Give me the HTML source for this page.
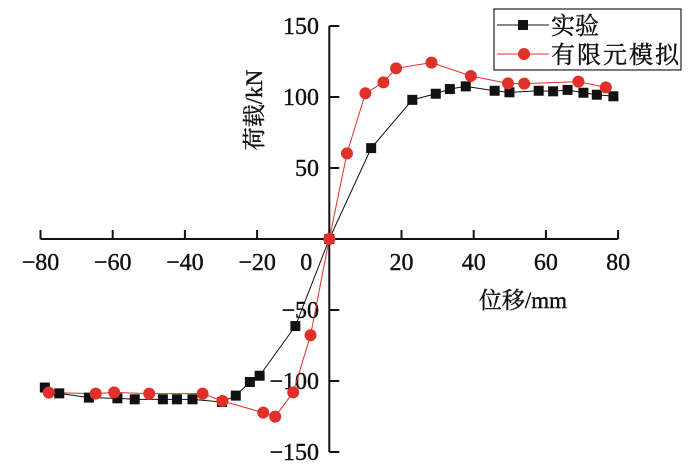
<!DOCTYPE html>
<html><head><meta charset="utf-8"><style>
html,body{margin:0;padding:0;background:#fff;}
svg{display:block;}
text{font-family:"Liberation Serif","Noto Serif CJK SC",serif;fill:#111;stroke:#111;stroke-width:0.4;}
</style></head><body>
<svg id="chart" width="700" height="476" viewBox="0 0 700 476">
<g id="axes"></g>
<g id="series"></g>
<g id="legend">
<rect x="494" y="9" width="187" height="61" fill="#fff" stroke="#222" stroke-width="1.2"/>
<line x1="497" y1="25" x2="549" y2="25" stroke="#111" stroke-width="1"/>
<rect x="518" y="20" width="10" height="10" fill="#111"/>
<text x="551" y="34" font-size="24">实验</text>
<line x1="497" y1="54" x2="549" y2="54" stroke="#e0302a" stroke-width="1"/>
<circle cx="524" cy="54" r="6" fill="#e0302a"/>
<text x="551" y="63" font-size="24" textLength="128">有限元模拟</text>
</g>
<text x="262" y="110" font-size="23" text-anchor="middle" transform="rotate(-90 262 110)">荷载/kN</text>
<text x="523" y="308" font-size="23" text-anchor="middle">位移/mm</text>
</svg>
<script>
const xTicks = [-80, -60, -40, -20, 0, 20, 40, 60, 80];
const yTicks = [150, 100, 50, -50, -100, -150];
const testX = [-78.8, -74.8, -66.6, -58.7, -53.9, -46.1, -42.2, -37.9, -29.7, -25.9, -22, -19.3, -9.4, 0, 11.6, 23, 29.5, 33.4, 37.8, 45.8, 49.9, 58, 62, 66, 70.4, 74.1, 78.7];
const testY = [-104.6, -108.7, -111.7, -112.2, -112.9, -112.9, -112.9, -112.9, -114.8, -110.3, -100.7, -96.3, -61.3, 0, 64, 98, 102.3, 105.6, 107.5, 104.4, 103.3, 104.4, 104, 105, 103, 101.6, 100.5];
const femX = [-77.7, -64.7, -59.6, -49.9, -35.1, -29.6, -18.3, -15, -10, -5.2, 0, 4.9, 10, 15, 18.5, 28.3, 39.2, 49.5, 54, 69, 76.6];
const femY = [-108.2, -108.9, -108, -108.9, -108.9, -114.1, -122.3, -125.1, -108, -67.8, 0, 60.3, 102.6, 110.3, 120.2, 124.2, 114.8, 109.6, 109.4, 110.8, 106.8];

const NS = "http://www.w3.org/2000/svg";
function xs(v){ return 329.3 + 3.61 * v; }
function ys(v){ return 239 - 1.42 * v; }
function mk(tag, attrs, parent){ const e = document.createElementNS(NS, tag); for (const k in attrs) e.setAttribute(k, attrs[k]); parent.appendChild(e); return e; }

const axes = document.getElementById('axes');
let l = mk('line', {x1: xs(-80), y1: ys(0), x2: xs(80), y2: ys(0), stroke: '#111', 'stroke-width': 2}, axes);


l = mk('line', {x1: xs(0), y1: ys(150), x2: xs(0), y2: ys(-150), stroke: '#111', 'stroke-width': 2}, axes);


xTicks.forEach(v => {
  const t = mk('line', {x1: xs(v), y1: ys(0), x2: xs(v), y2: ys(0) - 9, stroke: '#111', 'stroke-width': 2}, axes);
  
  
  const tx = mk('text', {x: v === 0 ? xs(v) - 23 : xs(v), y: 270, 'font-size': 24, 'text-anchor': 'middle'}, axes);
  tx.textContent = v < 0 ? '\u2212' + Math.abs(v) : String(v);
  
  
});
yTicks.forEach(v => {
  const t = mk('line', {x1: xs(0), y1: ys(v), x2: xs(0) + 10, y2: ys(v), stroke: '#111', 'stroke-width': 2}, axes);
  
  
  const tx = mk('text', {x: 319, y: ys(v) + 8, 'font-size': 24, 'text-anchor': 'end'}, axes);
  tx.textContent = v < 0 ? '\u2212' + Math.abs(v) : String(v);
  
  
});

const series = document.getElementById('series');
function drawLine(X, Y, color, name){
  const p = mk('polyline', {points: X.map((x, i) => xs(x) + ',' + ys(Y[i])).join(' '), fill: 'none', stroke: color, 'stroke-width': 1}, series);
  
  
}
drawLine(testX, testY, '#111', 'test-line');
drawLine(femX, femY, '#e0302a', 'fem-line');
testX.forEach((x, i) => {
  const r = mk('rect', {x: xs(x) - 5, y: ys(testY[i]) - 5, width: 10, height: 10, fill: '#111'}, series);
  
  
});
femX.forEach((x, i) => {
  const c = mk('circle', {cx: xs(x), cy: ys(femY[i]), r: 6, fill: '#e0302a'}, series);
  
  
});
</script>
</body></html>
